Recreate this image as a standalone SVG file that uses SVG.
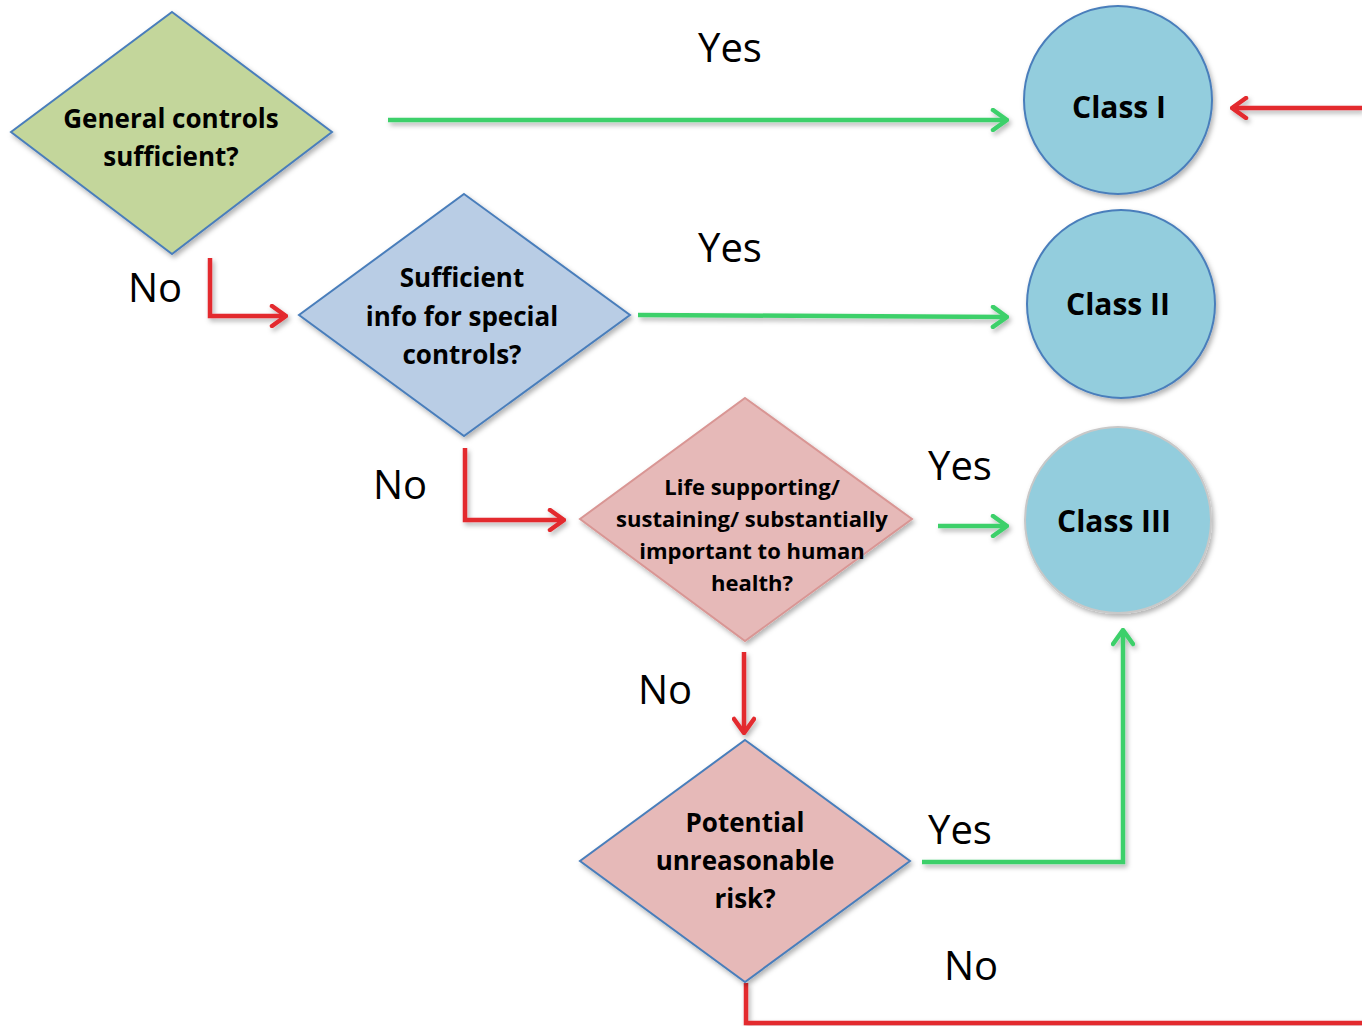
<svg xmlns="http://www.w3.org/2000/svg" width="1362" height="1026" viewBox="0 0 1362 1026">
<defs>
<filter id="sh" x="-10%" y="-10%" width="130%" height="130%">
<feDropShadow dx="2" dy="3" stdDeviation="2.5" flood-color="#000" flood-opacity="0.3"/>
</filter>
<marker id="ag" viewBox="0 0 20 24" refX="18" refY="12" markerWidth="20" markerHeight="24" markerUnits="userSpaceOnUse" orient="auto">
<path d="M4,2 L18,12 L4,22" fill="none" stroke="#3DD06B" stroke-width="4.5" stroke-linecap="round" stroke-linejoin="round"/>
</marker>
<marker id="ar" viewBox="0 0 20 24" refX="18" refY="12" markerWidth="20" markerHeight="24" markerUnits="userSpaceOnUse" orient="auto">
<path d="M4,2 L18,12 L4,22" fill="none" stroke="#E3292E" stroke-width="4.5" stroke-linecap="round" stroke-linejoin="round"/>
</marker>
</defs>
<style>
.q{font-family:"Open Sans","Liberation Sans",sans-serif;font-weight:bold;fill:#000;text-anchor:middle}
.lbl{font-family:"Open Sans","Liberation Sans",sans-serif;font-size:40px;fill:#000;text-anchor:middle}
.g{fill:none;stroke:#3DD06B;stroke-width:4.5;marker-end:url(#ag)}
.r{fill:none;stroke:#E3292E;stroke-width:4.5;marker-end:url(#ar)}
.r0{fill:none;stroke:#E3292E;stroke-width:4.5}
.circ{fill:#93CDDD;stroke:#4A7EBB;stroke-width:2;filter:url(#sh)}
</style>
<rect width="1362" height="1026" fill="#fff"/>
<g id="connectors" filter="url(#sh)">
<path class="g" d="M388,120 L1007,120"/>
<path class="r" d="M1362,108 L1232,108"/>
<path class="r" d="M210,258 L210,316 L286,316"/>
<path class="g" d="M638,315 L1007,317"/>
<path class="r" d="M465,448 L465,520 L564,520"/>
<path class="g" d="M938,526 L1007,526"/>
<path class="r" d="M744,652 L744,733"/>
<path class="g" d="M922,862 L1123,862 L1123,630"/>
<path class="r0" d="M746,983 L746,1023 L1362,1023"/>
</g>
<g id="labels">
<text class="lbl" x="730" y="62">Yes</text>
<text class="lbl" x="730" y="262">Yes</text>
<text class="lbl" x="155" y="302">No</text>
<text class="lbl" x="400" y="499">No</text>
<text class="lbl" x="960" y="480">Yes</text>
<text class="lbl" x="665" y="704">No</text>
<text class="lbl" x="960" y="844">Yes</text>
<text class="lbl" x="971" y="980">No</text>
</g>
<g id="q1">
<polygon points="172,12 332,132 172,254 11,132" fill="#C3D69B" stroke="#4A7EBB" stroke-width="2" filter="url(#sh)"/>
<text class="q" font-size="26" x="171" y="128">General controls</text>
<text class="q" font-size="26" x="171" y="166">sufficient?</text>
</g>
<g id="q2">
<polygon points="464,194 630,315 464,436 299,315" fill="#B9CDE5" stroke="#4A7EBB" stroke-width="2" filter="url(#sh)"/>
<text class="q" font-size="26" x="462" y="287">Sufficient</text>
<text class="q" font-size="26" x="462" y="326">info for special</text>
<text class="q" font-size="26" x="462" y="364">controls?</text>
</g>
<g id="q3">
<polygon points="745,398 912,519 745,641 580,519" fill="#E6B9B8" stroke="#D99694" stroke-width="2" filter="url(#sh)"/>
<text class="q" font-size="22" x="752" y="495">Life supporting/</text>
<text class="q" font-size="22" x="752" y="527">sustaining/ substantially</text>
<text class="q" font-size="22" x="752" y="559">important to human</text>
<text class="q" font-size="22" x="752" y="591">health?</text>
</g>
<g id="q4">
<polygon points="745,740 910,861 745,982 580,861" fill="#E6B9B8" stroke="#4A7EBB" stroke-width="2" filter="url(#sh)"/>
<text class="q" font-size="26" x="745" y="832">Potential</text>
<text class="q" font-size="26" x="745" y="870">unreasonable</text>
<text class="q" font-size="26" x="745" y="908">risk?</text>
</g>
<g id="c1">
<circle class="circ" cx="1118" cy="100" r="94"/>
<text class="q" font-size="30" x="1119" y="118">Class I</text>
</g>
<g id="c2">
<circle class="circ" cx="1121" cy="304" r="94"/>
<text class="q" font-size="30" x="1118" y="315">Class II</text>
</g>
<g id="c3">
<circle class="circ" cx="1118" cy="520" r="93" style="stroke:#C8C8C8"/>
<text class="q" font-size="30" x="1114" y="532">Class III</text>
</g>
</svg>
